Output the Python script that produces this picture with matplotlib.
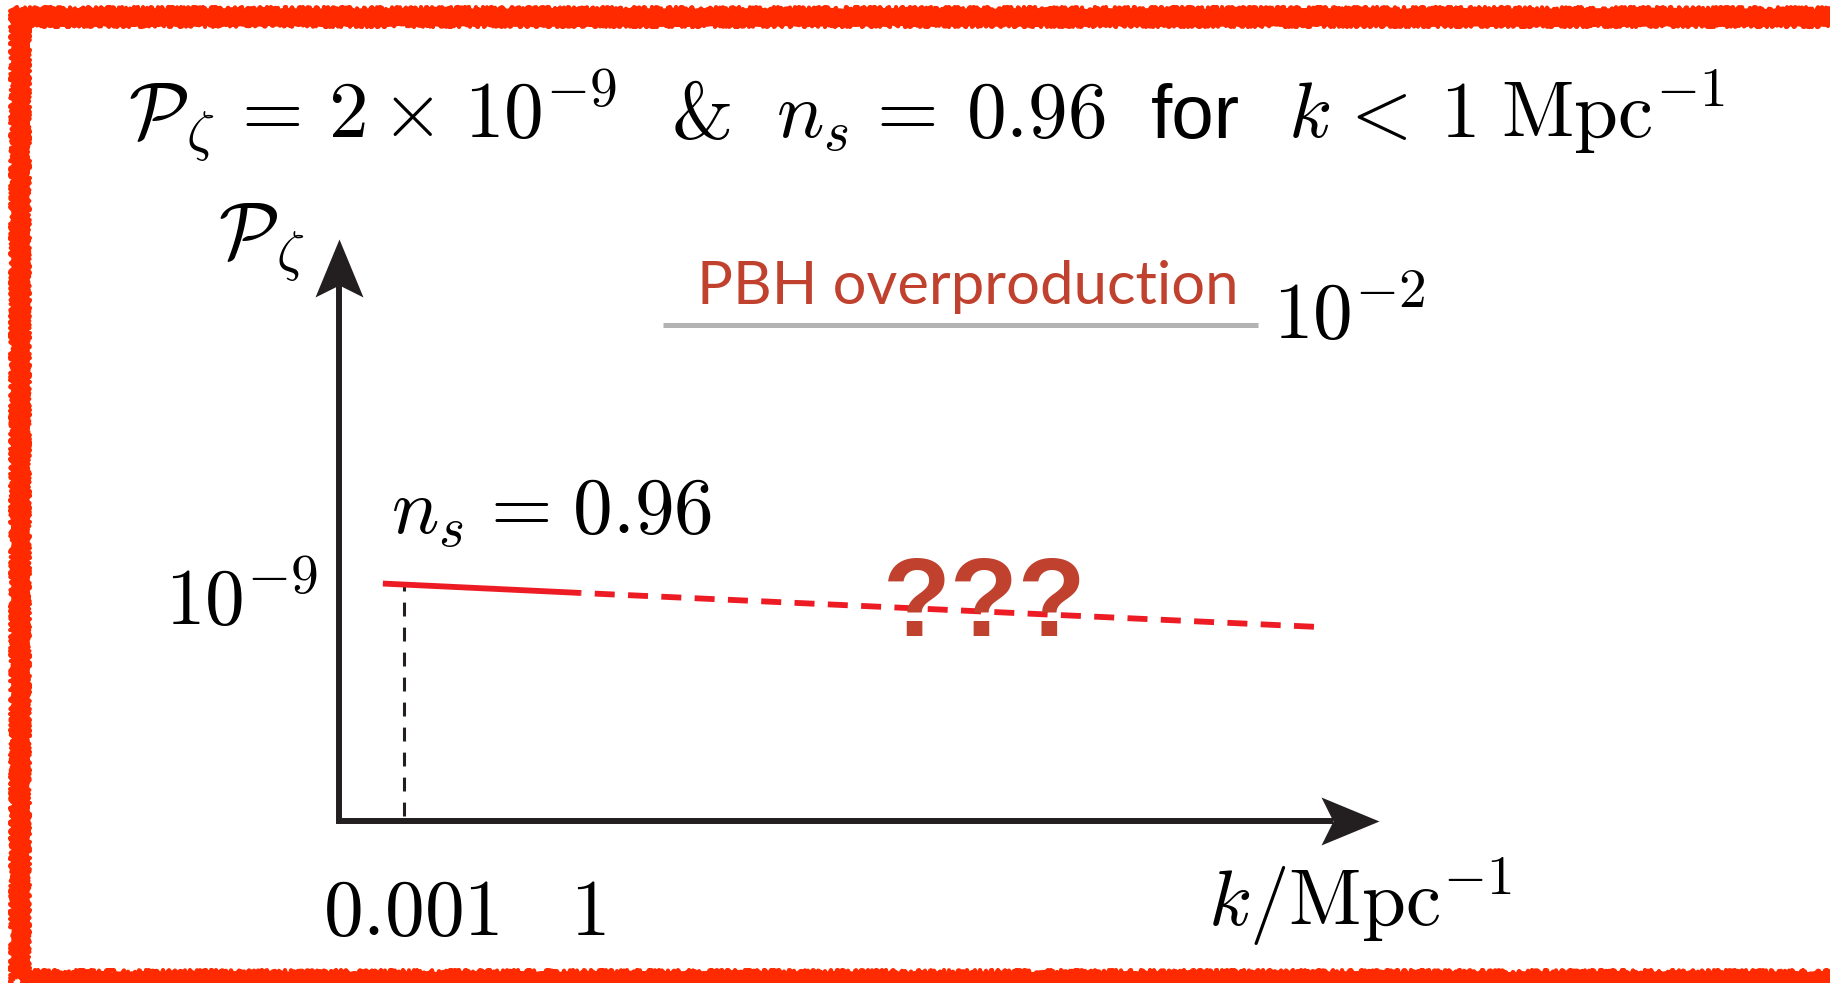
import matplotlib.pyplot as plt
from matplotlib.patches import Rectangle
from matplotlib.path import Path
from matplotlib.transforms import ScaledTranslation

plt.rcParams['mathtext.fontset'] = 'cm'
plt.rcParams['font.family'] = ['Liberation Sans', 'DejaVu Sans']
plt.rcParams['lines.scale_dashes'] = False

# measured CMB-scale spectrum (solid) and its naive extrapolation (dashed)
k_measured = [4.4e-4, 1.0]
P_measured = [2.05e-9, 1.17e-9]
k_extrap = [1.0, 3e12]
P_extrap = [1.17e-9, 1.55e-10]

# PBH overproduction bound
k_pbh = [25.0, 3e11]
P_pbh = [1e-2, 1e-2]

k_pivot = 1e-3
P_pivot = 2e-9
xtick_vals = [1e-3, 1.0]
xtick_labels = [r'$0.001$', r'$1$']
ytick_vals = [1e-9]
ytick_labels = [r'$10^{-9}$']

W, H = 1831, 983
MATH = 57
red = '#ed1c24'
brick = '#c0412e'
ink = '#231f20'


def px(x, y):
    # pixel position measured from the top-left corner -> figure fraction
    return x / W, 1 - y / H


fig = plt.figure(figsize=(W / 100, H / 100), dpi=100)
renderer = fig.canvas.get_renderer()

ax_w, ax_h = 1040, 582
ax = fig.add_axes([339 / W, 162 / H, ax_w / W, ax_h / H])
ax.set_xscale('log')
ax.set_yscale('log')
ax.set_xlim(10 ** -4.10, 10 ** 13.53)
ax.set_ylim(10 ** -14.83, 10 ** 0.224)
for s in ax.spines.values():
    s.set_visible(False)
ax.patch.set_visible(False)

ax.set_xticks(xtick_vals)
ax.set_xticklabels(xtick_labels, fontsize=MATH)
ax.set_yticks(ytick_vals)
ax.set_yticklabels(ytick_labels, fontsize=MATH)
ax.minorticks_off()
ax.tick_params(axis='x', length=0, pad=40)
ax.tick_params(axis='y', length=0, pad=15)
shift = ScaledTranslation(5 / 72, 0, fig.dpi_scale_trans)
for lab in ax.get_xticklabels():
    lab.set_transform(lab.get_transform() + shift)

# axes: an L-shaped shaft plus notched arrow heads
notch = 46
ax.plot([0, 0, 1 - notch / ax_w], [1 - notch / ax_h, 0, 0], transform=ax.transAxes,
        color=ink, lw=4.3, solid_joinstyle='miter', solid_capstyle='butt',
        clip_on=False)
head_right = Path([(0, 0), (-58, 24), (-notch, 0), (-58, -24), (0, 0)],
                  [Path.MOVETO, Path.LINETO, Path.LINETO, Path.LINETO, Path.CLOSEPOLY])
head_up = Path([(0, 0), (24, -58), (0, -notch), (-24, -58), (0, 0)],
               [Path.MOVETO, Path.LINETO, Path.LINETO, Path.LINETO, Path.CLOSEPOLY])
for (hx, hy), head in [((1, 0), head_right), ((0, 1), head_up)]:
    ax.plot([hx], [hy], transform=ax.transAxes, marker=head, ms=116 * 0.72,
            color=ink, mew=0, clip_on=False)

ax.plot([k_pivot, k_pivot], [10 ** -14.7, P_pivot], color=ink, lw=2.2,
        linestyle=(0, (10, 8)), zorder=2)
ax.plot(k_measured, P_measured, color=red, lw=4.2, solid_capstyle='butt', zorder=3)
ax.plot(k_extrap, P_extrap, color=red, lw=4.2, linestyle=(14, (14.4, 9.6)),
        dash_capstyle='butt', zorder=3)
ax.plot(k_pbh, P_pbh, color='#b3b3b3', lw=3.6, solid_capstyle='butt')

# title assembled piece by piece on one baseline
title_parts = [
    (r'$\mathcal{P}_\zeta\,=\,2\times\hspace{0.1}10^{-9}$', {}, 54),
    ('&', {'family': 'cmr10'}, 43),
    (r'$n_s\hspace{0.12}=\hspace{0.2}0.96$', {}, 46),
    ('for', {'fontsize': 55}, 48),
    (r'$k\hspace{0.1}<\hspace{0.22}1\hspace{0.3}\mathrm{Mpc}^{-1}$', {}, 0),
]
x_cur = 128
for s, kw, gap in title_parts:
    opts = {'fontsize': MATH, **kw}
    t = fig.text(*px(x_cur, 138), s, ha='left', va='baseline', **opts)
    x_cur += t.get_window_extent(renderer).width + gap

fig.text(*px(218, 258), r'$\mathcal{P}_\zeta$', ha='left', va='baseline', fontsize=MATH)
fig.text(*px(1208, 926), r'$k/\mathrm{Mpc}^{-1}$', ha='left', va='baseline', fontsize=MATH)
fig.text(*px(391, 534), r'$n_s\hspace{0.1}=\hspace{0.1}0.96$', ha='left',
         va='baseline', fontsize=MATH)
fig.text(*px(1273, 339), r'$10^{-2}$', ha='left', va='baseline', fontsize=MATH)
fig.text(*px(697, 304), 'PBH overproduction', ha='left', va='baseline',
         fontsize=43, color=brick, family=['Lato', 'DejaVu Sans'])
fig.text(*px(883, 636), '???', ha='left', va='baseline', fontsize=80,
         fontweight='bold', color=brick)

# rough red frame, partly running off the right and bottom edges
frame_color = '#ff2a00'
for off, lw, rough in [(0, 12, 1.0), (-7, 3, 3.0), (7, 3, 3.0)]:
    frame = Rectangle(px(20 + off, 980 - off), (1819 - 2 * off) / W, (963 - 2 * off) / H,
                      transform=fig.transFigure, fill=False, edgecolor=frame_color,
                      lw=lw, joinstyle='round')
    frame.set_sketch_params(scale=rough, length=4, randomness=6)
    fig.patches.append(frame)

fig.savefig('out.png', dpi=100)
